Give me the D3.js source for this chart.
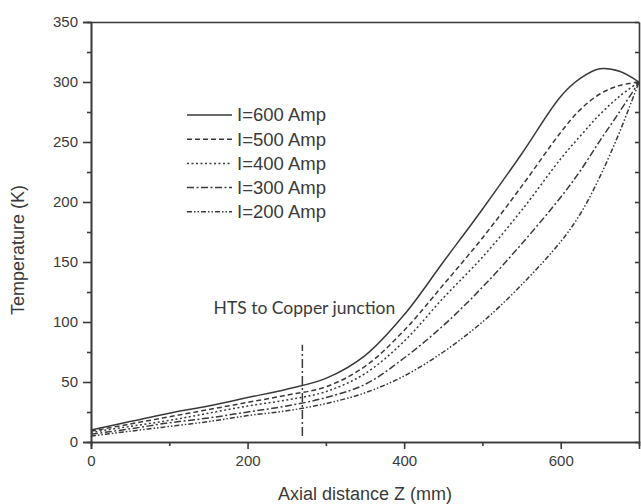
<!DOCTYPE html>
<html>
<head>
<meta charset="utf-8">
<script src="https://d3js.org/d3.v7.min.js"></script>
<style>
  body { margin: 0; background: #fff; }
  svg { display: block; }
</style>
</head>
<body>
<div id="chart"></div>
<script>
// data
var zValues = [0, 50, 100, 150, 200, 250, 300, 350, 400, 450, 500, 550, 600, 625, 650, 675, 700];
var amp600 = [10, 17, 24, 30, 37, 44, 53, 72, 106, 150, 194, 240, 288, 303, 311, 309, 300];
var amp500 = [9, 15, 21, 27, 33, 39, 46, 63, 93, 131, 170, 213, 258, 277, 290, 297, 300];
var amp400 = [8, 13, 18, 24, 30, 35, 42, 57, 84, 120, 154, 193, 236, 255, 273, 288, 300];
var amp300 = [6.5, 11, 16, 20, 25, 30, 37, 48, 70, 97, 129, 165, 204, 226, 251, 275, 300];
var amp200 = [5, 9, 13, 17, 22, 26, 32, 41, 55, 75, 100, 131, 167, 190, 221, 258, 300];
var seriesNames = ["I=600 Amp", "I=500 Amp", "I=400 Amp", "I=300 Amp", "I=200 Amp"];
var junctionZ = 270;
var junctionT = [5, 81];
var xTicks = [0, 200, 400, 600];
var xMinor = [100, 300, 500];
var yTicks = [0, 50, 100, 150, 200, 250, 300, 350];
var yMinor = [25, 75, 125, 175, 225, 275, 325];

var width = 641, height = 504;
var margin = {left: 91, right: 2, top: 22, bottom: 62};
var ink = "#3a3a3a";
var dashes = [null, "5,3", "2,2.5", "7,2.5,2,2.5", "5,2,1.5,2,1.5,2"];

var svg = d3.select("#chart").append("svg")
  .attr("width", width)
  .attr("height", height);

var xs = d3.scaleLinear().domain([0, 700]).range([margin.left, width - margin.right]);
var ys = d3.scaleLinear().domain([0, 350]).range([height - margin.bottom, margin.top]);

var allSeries = [amp600, amp500, amp400, amp300, amp200].map(function(vals) {
  return vals.map(function(v, i) { return {z: zValues[i], t: v}; });
});

var line = d3.line()
  .x(function(d) { return xs(d.z); })
  .y(function(d) { return ys(d.t); })
  .curve(d3.curveCatmullRom.alpha(0.5));

// curves
svg.selectAll(".curve")
  .data(allSeries)
  .enter()
  .append("path")
  .attr("class", "curve")
  .attr("fill", "none")
  .attr("stroke", ink)
  .attr("stroke-width", 1.5)
  .attr("stroke-dasharray", function(d, i) { return dashes[i]; })
  .attr("d", line);

// junction marker
svg.append("line")
  .attr("x1", xs(junctionZ)).attr("x2", xs(junctionZ))
  .attr("y1", ys(junctionT[0])).attr("y2", ys(junctionT[1]))
  .attr("stroke", ink)
  .attr("stroke-width", 1.5)
  .attr("stroke-dasharray", "9,3,2,3");

svg.append("text")
  .attr("x", xs(junctionZ) + 2)
  .attr("y", ys(100) - 8)
  .attr("text-anchor", "middle")
  .style("font-family", "Lato, 'Open Sans', sans-serif")
  .style("font-size", "17.5px")
  .style("fill", ink)
  .text("HTS to Copper junction");

// axes
function styleAxis(g) {
  g.selectAll("path, line").attr("stroke", ink).attr("stroke-width", 1.6);
  g.selectAll("text")
    .style("font-family", "'Liberation Sans', Arial, sans-serif")
    .style("font-size", "15px")
    .style("fill", ink);
}

svg.append("g")
  .attr("transform", "translate(0," + ys(0) + ")")
  .call(d3.axisBottom(xs).tickValues(xTicks).tickSize(7).tickPadding(6).tickFormat(d3.format("d")))
  .call(styleAxis);
svg.append("g")
  .attr("transform", "translate(0," + ys(0) + ")")
  .call(d3.axisBottom(xs).tickValues(xMinor).tickSize(4).tickFormat(""))
  .call(styleAxis);

svg.append("g")
  .attr("transform", "translate(" + xs(0) + ",0)")
  .call(d3.axisLeft(ys).tickValues(yTicks).tickSize(8).tickPadding(5).tickFormat(d3.format("d")))
  .call(styleAxis);
svg.append("g")
  .attr("transform", "translate(" + xs(0) + ",0)")
  .call(d3.axisLeft(ys).tickValues(yMinor).tickSize(4).tickFormat(""))
  .call(styleAxis);

// top and right frame
svg.append("g")
  .attr("transform", "translate(0," + ys(350) + ")")
  .call(d3.axisTop(xs).tickValues([]).tickSizeOuter(0))
  .call(styleAxis);
svg.append("g")
  .attr("transform", "translate(" + xs(700) + ",0)")
  .call(d3.axisLeft(ys).tickValues(yTicks.concat(yMinor)).tickSize(4).tickSizeOuter(0).tickFormat(""))
  .call(styleAxis);

// axis titles
svg.append("text")
  .attr("x", (xs(0) + xs(700)) / 2)
  .attr("y", 500)
  .attr("text-anchor", "middle")
  .style("font-family", "'Liberation Sans', Arial, sans-serif")
  .style("font-size", "18px")
  .style("fill", ink)
  .text("Axial distance Z (mm)");

svg.append("text")
  .attr("transform", "translate(24," + 250 + ") rotate(-90)")
  .attr("text-anchor", "middle")
  .style("font-family", "'Liberation Sans', Arial, sans-serif")
  .style("font-size", "18px")
  .style("fill", ink)
  .text("Temperature (K)");

// legend
var legend = svg.append("g").attr("transform", "translate(187,115)");
var rows = legend.selectAll(".row")
  .data(seriesNames)
  .enter()
  .append("g")
  .attr("transform", function(d, i) { return "translate(0," + (i * 24.2) + ")"; });
rows.append("line")
  .attr("x1", 0).attr("x2", 45)
  .attr("stroke", ink)
  .attr("stroke-width", 1.5)
  .attr("stroke-dasharray", function(d, i) { return dashes[i]; });
rows.append("text")
  .attr("x", 50)
  .attr("dy", "0.35em")
  .style("font-family", "'Liberation Sans', Arial, sans-serif")
  .style("font-size", "18.5px")
  .style("fill", ink)
  .text(function(d) { return d; });
</script>
</body>
</html>
